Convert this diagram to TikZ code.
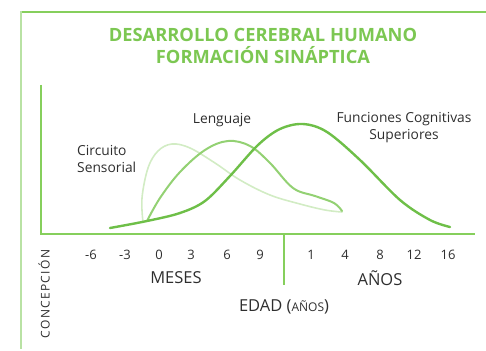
\documentclass[tikz,border=0pt]{standalone}
\usepackage{fontspec}
\setmainfont{Open Sans}
\definecolor{titlegreen}{HTML}{7CC752}
\definecolor{framegreen}{HTML}{86CF5C}
\definecolor{palegreen}{HTML}{B9E2A4}
\definecolor{darkcurve}{HTML}{6EBF48}
\definecolor{midcurve}{HTML}{93D173}
\definecolor{lightcurve}{HTML}{D2ECC4}
\definecolor{txtgray}{HTML}{2E2E2E}
\begin{document}
\begin{tikzpicture}[x=1pt,y=-1pt,
  ticklbl/.style={font=\fontsize{13}{13}\selectfont, text=txtgray, inner sep=0pt},
  unitlbl/.style={font=\fontsize{16.5}{16.5}\selectfont, text=txtgray, inner sep=0pt},
  curvelbl/.style={font=\fontsize{13.8}{17}\selectfont, text=txtgray, inner sep=0pt},
  titlelbl/.style={font=\fontsize{18.3}{22}\selectfont\bfseries, text=titlegreen, inner sep=0pt, align=center}]
\useasboundingbox (0,0) rectangle (486,350);
% outer frame
\draw[framegreen, line width=2pt] (20,12) -- (486,12);
\draw[palegreen, line width=2pt] (20.5,11) -- (20.5,349);
% axes
\draw[framegreen, line width=1.3pt] (41,85) -- (41,234) -- (475,234);
\draw[framegreen, line width=1.3pt] (284,234) -- (284,285);
% title
\node[titlelbl] (title) at (263,46) {DESARROLLO CEREBRAL HUMANO\\FORMACIÓN SINÁPTICA};
% curves
\draw[lightcurve, line width=1.6pt, line cap=round] plot[smooth, tension=0.6] coordinates {(143,222) (142,198) (148,168) (158,151) (172,144) (190,148) (215,163) (240,180) (270,195) (300,204) (325,210) (342,212)};
\draw[midcurve, line width=2pt, line cap=round] plot[smooth, tension=0.6] coordinates {(147,221) (160,198) (180,172) (205,150) (228,141) (250,146) (270,163) (293,188) (315,196) (334,203) (342,211)};
\draw[darkcurve, line width=2.4pt, line cap=round] plot[smooth, tension=0.55] coordinates {(110,228) (147,221) (180,213) (205,201) (230,176) (258,145) (280,129) (303,124) (327,132) (360,160) (400,200) (430,220) (450,227)};
% curve labels
\node[curvelbl] (leng) at (222,120) {Lenguaje};
\node[curvelbl, align=center] (func) at (404,128) {Funciones Cognitivas\\Superiores};
\node[curvelbl, align=left, anchor=west] (circ) at (77,159) {Circuito\\Sensorial};
% ticks
\foreach \v/\x [count=\i] in {-6/91,-3/125,0/159,3/191,6/227,9/260,1/311,4/345,8/380,12/414,16/448}
  \node[ticklbl] (t\i) at (\x,255) {\v};
\node[unitlbl] (meses) at (176,278) {MESES};
\node[unitlbl] (anos) at (380,278) {AÑOS};
\node[unitlbl] (edad) at (284,307) {EDAD ({\fontsize{12}{12}\selectfont AÑOS})};
\node[ticklbl, rotate=90, font=\fontsize{12}{12}\selectfont\addfontfeatures{LetterSpace=11}] (conc) at (44,294) {CONCEPCIÓN};
\end{tikzpicture}
\end{document}
